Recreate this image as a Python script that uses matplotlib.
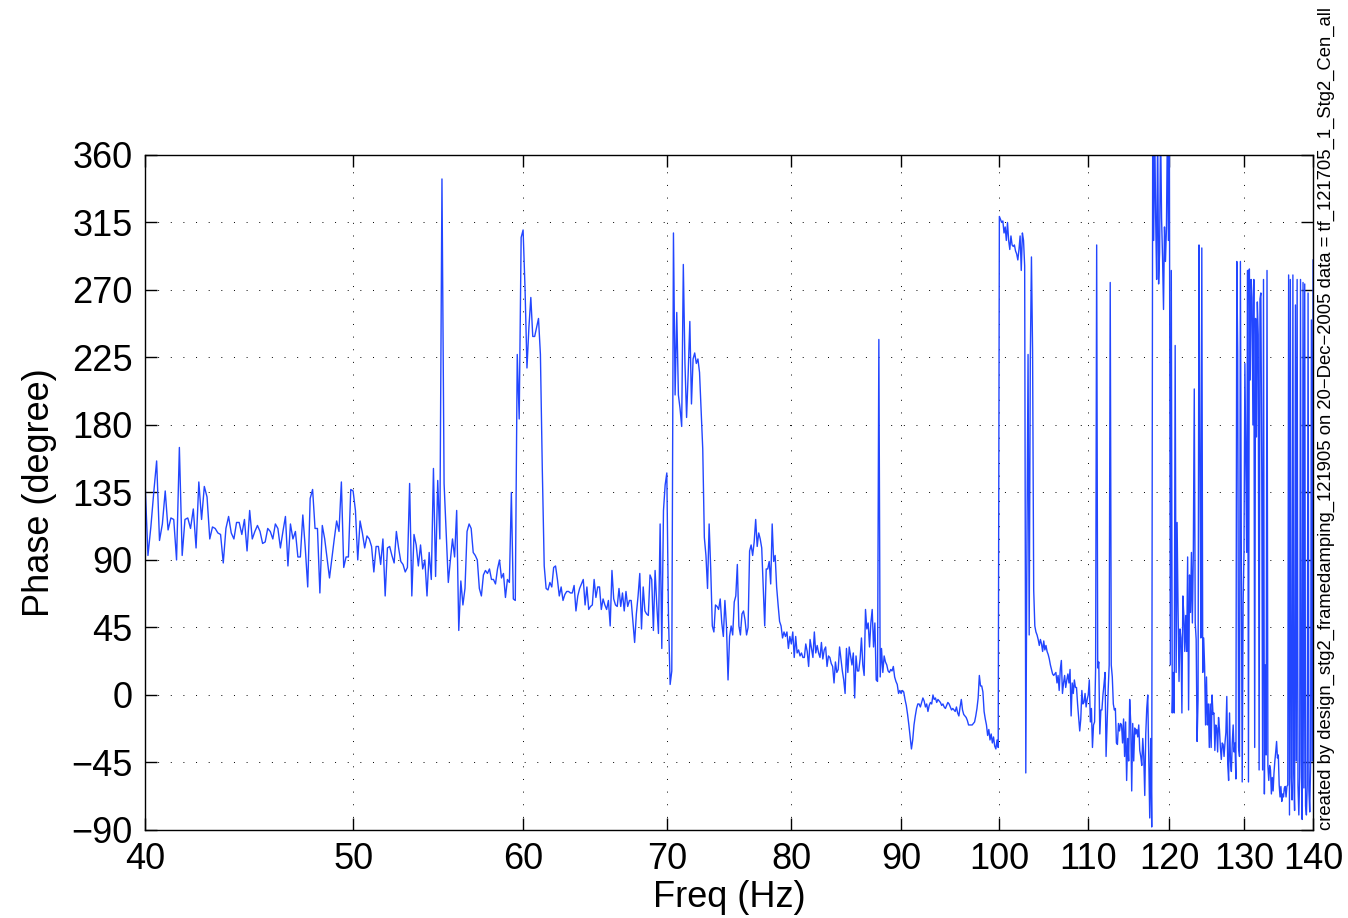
import numpy as np
import matplotlib
matplotlib.use("Agg")
import matplotlib.pyplot as plt
from matplotlib.ticker import NullLocator

# phase, 0.125 Hz steps, one list per 10 Hz band
phase_40_50 = [142, 93, 112, 135, 156, 103, 114, 136, 110, 118,
               117, 90, 165, 93, 117, 118, 111, 124, 98, 142,
               117, 139, 132, 104, 112, 111, 108, 107, 88, 111,
               119, 108, 104, 115, 115, 107, 117, 96, 123, 104,
               109, 113, 109, 101, 102, 111, 109, 104, 114, 111,
               98, 109, 119, 86, 114, 104, 109, 92, 92, 120,
               98, 72, 131, 137, 111, 111, 68, 113, 104, 91,
               78, 91, 104, 116, 109, 142, 85, 92, 92, 137]
phase_50_60 = [136, 123, 90, 116, 108, 98, 106, 104, 99, 82,
               99, 99, 87, 104, 66, 98, 99, 93, 88, 109,
               98, 89, 87, 82, 85, 141, 66, 107, 100, 86,
               100, 84, 90, 66, 95, 77, 151, 79, 143, 104,
               344, 141, 108, 75, 90, 104, 92, 123, 43, 76,
               60, 71, 109, 114, 111, 95, 93, 90, 71, 66,
               80, 83, 81, 84, 77, 77, 74, 84, 90, 78,
               81, 65, 77, 75, 135, 64, 63, 227, 184, 305]
phase_60_70 = [310, 271, 218, 245, 265, 239, 239, 245,
               251, 227, 150, 86, 71, 70, 75, 72,
               85, 86, 77, 66, 72, 63, 67, 69,
               69, 68, 68, 73, 56, 66, 71, 74,
               77, 60, 72, 57, 59, 60, 77, 65,
               72, 72, 57, 64, 60, 57, 63, 46,
               83, 64, 60, 59, 71, 59, 68, 56,
               69, 59, 63, 63, 49, 35, 54, 66,
               81, 44, 72, 56, 54, 53, 80, 77,
               43, 83, 60, 41, 114, 31, 123, 140]
phase_70_80 = [148, 52, 7, 16, 308, 200, 255, 200,
               191, 179, 287, 221, 185, 215, 249, 194,
               224, 228, 221, 224, 215, 190, 164, 105,
               93, 71, 114, 84, 46, 42, 60, 59,
               57, 64, 48, 39, 63, 46, 10, 39,
               46, 40, 62, 66, 87, 46, 40, 54,
               56, 50, 40, 45, 96, 100, 93, 102,
               117, 99, 108, 104, 98, 72, 46, 84,
               84, 89, 74, 114, 89, 93, 72, 60,
               49, 46, 38, 42, 39, 42, 31, 39]
phase_80_90 = [34, 42, 25, 39, 28, 30, 26, 28,
               25, 25, 34, 29, 19, 37, 31, 25,
               42, 28, 33, 28, 25, 35, 24, 30,
               32, 19, 26, 25, 21, 19, 8, 22,
               15, 17, 32, 24, 16, 10, 1, 31,
               15, 32, 26, 20, 28, -2, 26, 16,
               16, 24, 38, 20, 13, 57, 44, 48,
               32, 48, 57, 32, 48, 10, 9, 237,
               12, 31, 15, 26, 22, 20, 16, 15,
               17, 16, 19, 12, 9, 7, 1, 3]
phase_90_100 = [1, 3, 2, -3, -7, -13, -20, -28,
                -36, -30, -20, -14, -9, -6, -6, -8,
                -5, -2, -4, -8, -6, -11, -7, -5,
                -6, 0, -3, -2, -5, -3, -4, -5,
                -7, -6, -8, -9, -7, -5, -6, -8,
                -10, -9, -10, -11, -8, -12, -14, -8,
                -3, -10, -13, -14, -15, -17, -20, -20,
                -20, -20, -19, -18, -14, -9, -2, 13,
                6, 6, 2, -11, -16, -20, -27, -23,
                -30, -26, -32, -28, -34, -36, -30, -35]
phase_100_110 = [319, 317, 315, 316, 308, 312, 303, 315, 303, 297, 306, 300, 299, 300, 296, 294,
                 290, 297, 306, 283, 308, 303, 286, -52, 99, 227, 40, 224, 292, 230, 70, 46,
                 42, 40, 37, 33, 37, 34, 29, 36, 30, 33, 29, 27, 24, 20, 17, 14,
                 13, 14, 15, 8, 13, 3, 17, 23, 1, 8, 13, 5, 10, 14, 8, 17,
                 -14, 8, 1, 10, 5, 5, -6, -15, -24, -16, 3, -6, -5, 1, -8, -3]
phase_110_120 = [0, 10, -18, -9, -35, -20, -18, 18, 300, 18, 22, -26, -10, -10, 0, 7,
                 15, -41, -18, 3, 20, 275, 20, 12, -6, -10, -9, -32, -33, -19, -24, -19,
                 -20, -32, -16, -41, -18, -57, -29, -44, -3, -18, -64, -19, -44, -22, -26, -23,
                 -28, -20, -37, -41, -47, -29, -41, -67, -26, -9, 0, -41, -82, -29, -88, 380,
                 303, 380, 318, 277, 380, 274, 295, 380, 318, 292, 257, 312, 289, 311, 380, 303]
phase_120_130 = [380, 20, 283, -12, 15, -12, 233, 15, 115, 57, 9, 44, 38, -12, 66, 53,
                 29, 53, 29, 92, -10, 80, 55, 95, 48, 95, 204, 48, 37, -31, -3, 300,
                 157, 38, 298, 15, 38, 19, -20, 12, -20, -6, -35, -6, -35, 0, -13, -12,
                 -37, -20, -22, -38, -15, -23, -35, -43, -32, -33, -41, -32, -25, -1, -46, -57,
                 -12, -44, -51, -32, -20, -38, -32, -56, 289, 229, -35, -41, 289, 98, -58, 60]
phase_130_140 = [95, 221, 160, 95, 283, -58, 284, 210, 277, 265, 180, 277, -35, 251,
                 172, 262, 240, -50, 264, 268, 150, -50, 277, -66, 20, -40, 283,
                 -47, -57, -47, -50, -66, -55, -64, -52, -44, -38, -31, -42,
                 -40, -60, -68, -61, -71, -66, -68, -62, -61, -68, -61, -60,
                 280, -80, 277, -55, -70, 280, -52, -77, 260, -44, 277, -60, -80, -55, 277,
                 -44, -83, 275, -62, 274, -74, -80, -60, 268, -64, -78, -47, 250, -44, 290]

bands = [(40, phase_40_50), (50, phase_50_60), (60, phase_60_70), (70, phase_70_80),
         (80, phase_80_90), (90, phase_90_100), (100, phase_100_110), (110, phase_110_120),
         (120, phase_120_130)]
freq = []
phase = []
for lo, vals in bands:
    freq.extend(np.linspace(lo, lo + 10, len(vals), endpoint=False))
    phase.extend(vals)
freq.extend(np.linspace(130, 140, len(phase_130_140)))
phase.extend(phase_130_140)

x_ticks = [40, 50, 60, 70, 80, 90, 100, 110, 120, 130, 140]
y_ticks = [-90, -45, 0, 45, 90, 135, 180, 225, 270, 315, 360]
note = ("created by design_stg2_framedamping_121905 on 20\u2212Dec\u22122005 "
        "data = tf_121705_1_Stg2_Cen_all")

plt.rcParams['font.family'] = ['Liberation Sans', 'DejaVu Sans']

fig = plt.figure(figsize=(13.48, 9.18), dpi=100)
ax = fig.add_axes([0.1076, 0.0959, 0.8665, 0.7353])

ax.plot(freq, phase, color='#2246ff', linewidth=1.0)

ax.set_xscale('log')
ax.set_xlim(40, 140)
ax.set_ylim(-90, 360)
ax.set_xticks(x_ticks)
ax.set_xticklabels([str(t) for t in x_ticks])
ax.xaxis.set_minor_locator(NullLocator())
ax.set_yticks(y_ticks)
ax.set_yticklabels([str(t).replace('-', '\u2212') for t in y_ticks])

ax.grid(True, which='major', linestyle=(0, (1, 12)), color='k', linewidth=0.7)
ax.tick_params(which='both', direction='in', top=True, right=True,
               length=8.5, width=1.0, labelsize=26, pad=9)
for s in ax.spines.values():
    s.set_linewidth(1.0)

ax.set_xlabel('Freq (Hz)', fontsize=26, labelpad=2)
ax.set_ylabel('Phase (degree)', fontsize=26, labelpad=10)

fig.text(1326 / 1348, 88 / 918, note, rotation=90, ha='center', va='bottom', fontsize=13.3)

fig.savefig('out.png', dpi=100, facecolor='white')
